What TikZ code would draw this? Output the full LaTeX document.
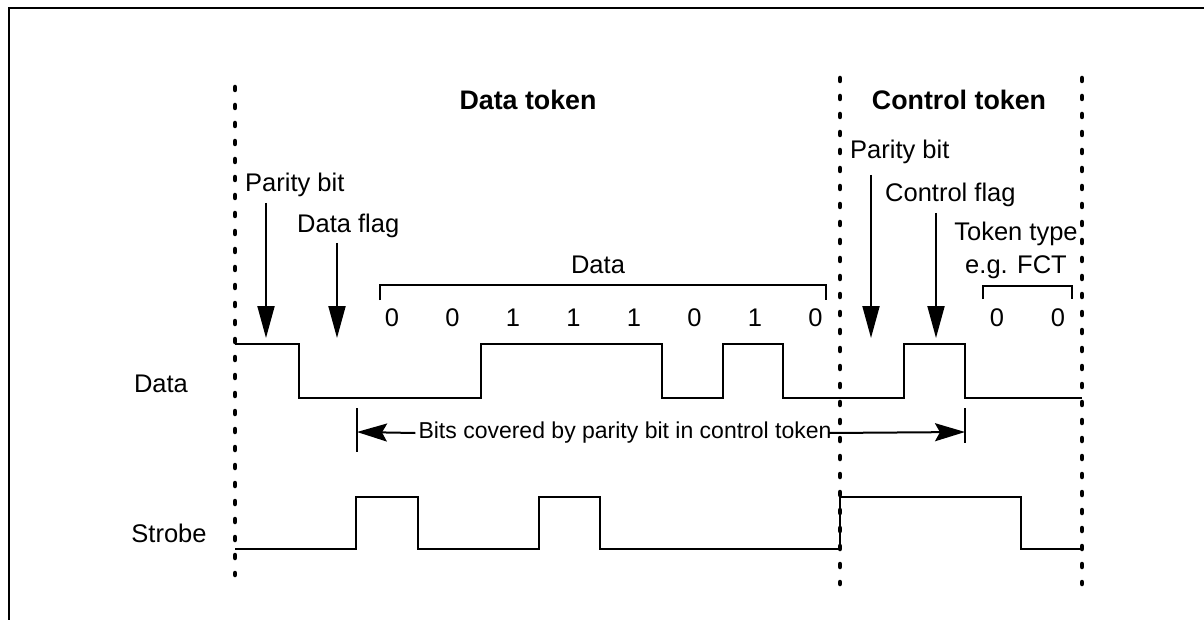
\documentclass[tikz,border=0pt]{standalone}
\usepackage{fontspec}
\setmainfont{Liberation Sans}
\usetikzlibrary{arrows.meta}

\tikzset{
	lbl/.style={inner sep=0pt, font=\fontsize{25.5}{33}\selectfont},
	ttl/.style={lbl, font=\fontsize{26.8}{33}\selectfont\bfseries},
	signal/.style={line width=2pt, line join=miter},
	bound/.style={line width=4.5pt, line cap=round, dash pattern=on 3pt off 15pt},
	ptr/.style={line width=2pt, -{Triangle[length=32pt,width=17pt]}},
	hptr/.style={line width=2pt, -{Stealth[length=30pt,width=18pt,inset=5pt]}},
	brace/.style={line width=2pt}
}

\begin{document}
\begin{tikzpicture}[x=1pt,y=-1pt]
			\useasboundingbox (0,0) rectangle (1204,620);
			\draw[line width=2pt] (9,620) -- (9,8) -- (1204,8);

			% token boundaries
			\draw[bound] (235,87) -- (235,575);
			\draw[bound] (840,78) -- (840,584);
			\draw[bound] (1082,78) -- (1082,584);

			\node[ttl] (dtok) at (528,100) {Data token};
			\node[ttl] (ctok) at (959,100) {Control token};

			% signal names
			\node[lbl] (datasig) at (161,384) {Data};
			\node[lbl] (strobesig) at (169,533) {Strobe};

			% data and strobe lines
			\draw[signal] (235,344) -- (299,344) -- (299,398) -- (481,398) -- (481,344) -- (662,344) -- (662,398)
				-- (723,398) -- (723,344) -- (783,344) -- (783,398) -- (904,398) -- (904,344) -- (965,344) -- (965,398) -- (1082,398);
			\draw[signal] (235,549) -- (356,549) -- (356,497) -- (418,497) -- (418,549) -- (539,549) -- (539,497)
				-- (600,497) -- (600,549) -- (840,549) -- (840,497) -- (1021,497) -- (1021,549) -- (1082,549);

			% data token fields
			\node[lbl, anchor=west] (dpar) at (245,185) {Parity bit};
			\node[lbl, anchor=west] (dflag) at (297,226) {Data flag};
			\coordinate (dpar top) at (266,203);
			\coordinate (dpar tip) at (266,338);
			\coordinate (dflag top) at (337,243);
			\coordinate (dflag tip) at (337,338);
			\draw[ptr] (dpar top) -- (dpar tip);
			\draw[ptr] (dflag top) -- (dflag tip);

			\node[lbl] (dfield) at (598,265) {Data};
			\coordinate (dfield l) at (380,300);
			\coordinate (dfield r) at (826,300);
			\draw[brace] (dfield l) -- ++(0,-15) -| (dfield r);
			\foreach \b [count=\i from 0] in {0,0,1,1,1,0,1,0}{
					\node[lbl] (dbit\i) at ({392+\i*60.5},318) {\b};
				}

			% control token fields
			\node[lbl, anchor=west] (cpar) at (850,152) {Parity bit};
			\node[lbl, anchor=west] (cflag) at (885,195) {Control flag};
			\coordinate (cpar top) at (871,175);
			\coordinate (cpar tip) at (871,338);
			\coordinate (cflag top) at (936,213);
			\coordinate (cflag tip) at (936,338);
			\draw[ptr] (cpar top) -- (cpar tip);
			\draw[ptr] (cflag top) -- (cflag tip);

			\node[lbl, align=center] (ctype) at (1016,250) {Token type\\e.g. FCT};
			\coordinate (ctype l) at (983,299);
			\coordinate (ctype r) at (1072,299);
			\draw[brace] (ctype l) -- ++(0,-13) -| (ctype r);
			\node[lbl] (cbit0) at (997,318) {0};
			\node[lbl] (cbit1) at (1058,318) {0};

			% parity coverage
			\node[lbl, font=\fontsize{23}{28}\selectfont, inner xsep=3pt] (cover) at (625,433) {Bits covered by parity bit in control token};
			\draw[line width=2pt] (357,408) -- (357,452);
			\draw[line width=2pt] (965,408) -- (965,443);
			\coordinate (cover l) at (357,432);
			\coordinate (cover r) at (965,432);
			\draw[hptr] (cover.west) -- (cover l);
			\draw[hptr] ([xshift=-6pt]cover.east) -- (cover r);
		\end{tikzpicture}
\end{document}
